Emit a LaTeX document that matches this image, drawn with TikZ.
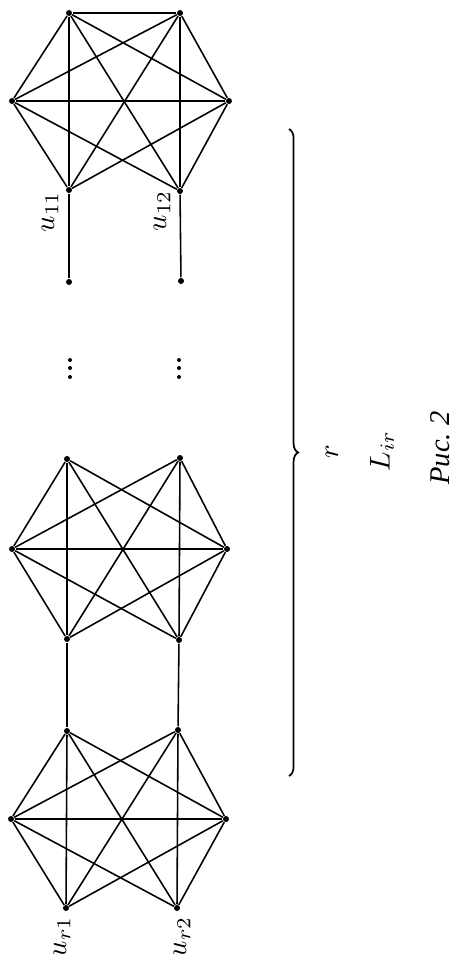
\documentclass[tikz,border=0pt]{standalone}
\usepackage{fontspec}
\newfontfamily\cyrfont{Liberation Serif}
\usetikzlibrary{decorations.pathreplacing}
\begin{document}
\begin{tikzpicture}[x=0.35pt,y=-0.35pt,
  v/.style={circle,fill,inner sep=0pt,minimum size=2.1pt},
  edge/.style={line width=0.55pt},
  dotm/.style={circle,fill,inner sep=0pt,minimum size=1.4pt},
  lab/.style={rotate=90,inner sep=0pt}]
\useasboundingbox (0,0) rectangle (455,954);
% top graph
\node[v] (A1) at (69,13) {};
\node[v] (A2) at (180,13) {};
\node[v] (A3) at (12,101) {};
\node[v] (A4) at (229,101) {};
\node[v] (A5) at (69,190) {};
\node[v] (A6) at (180,191) {};
\node[v] (P1) at (69,282) {};
\node[v] (P2) at (181,281) {};
% middle graph
\node[v] (B1) at (67,459) {};
\node[v] (B2) at (180,458) {};
\node[v] (B3) at (12,549) {};
\node[v] (B4) at (227,549) {};
\node[v] (B5) at (67,639) {};
\node[v] (B6) at (179,640) {};
% bottom graph
\node[v] (C1) at (67,731) {};
\node[v] (C2) at (178,730) {};
\node[v] (C3) at (11,819) {};
\node[v] (C4) at (226,819) {};
\node[v] (C5) at (66,908) {};
\node[v] (C6) at (177,908) {};
% edges
\foreach \a/\b in {A1/A2,A1/A3,A1/A4,A1/A5,A1/A6,A2/A3,A2/A4,A2/A5,A2/A6,A3/A4,A3/A5,A3/A6,A4/A5,A4/A6,A5/P1,A6/P2}
  \draw[edge] (\a) -- (\b);
\foreach \a/\b in {B1/B3,B1/B4,B1/B5,B1/B6,B2/B3,B2/B4,B2/B5,B2/B6,B3/B4,B3/B5,B3/B6,B4/B5,B4/B6,B5/C1,B6/C2}
  \draw[edge] (\a) -- (\b);
\foreach \a/\b in {C1/C3,C1/C4,C1/C5,C1/C6,C2/C3,C2/C4,C2/C5,C2/C6,C3/C4,C3/C5,C3/C6,C4/C5,C4/C6}
  \draw[edge] (\a) -- (\b);
% vertical dots
\node[dotm] (D1) at (70,360) {};
\node[dotm] (D2) at (70,368) {};
\node[dotm] (D3) at (70,377) {};
\node[dotm] (E1) at (179,360) {};
\node[dotm] (E2) at (179,368) {};
\node[dotm] (E3) at (179,377) {};
% labels
\node[lab] (L11) at (50,212) {$u_{11}$};
\node[lab] (L12) at (162,211) {$u_{12}$};
\node[lab] (Lr1) at (62,937) {$u_{r1}$};
\node[lab] (Lr2) at (182,937) {$u_{r2}$};
% brace
\coordinate (br1) at (289,129);
\coordinate (br2) at (289,776);
\draw[line width=0.6pt,decorate,decoration={brace,amplitude=3.2pt}] (br1) -- (br2);
\node[lab] (tr) at (332,452) {$r$};
\node[lab] (tL) at (382,451) {$L_{ir}$};
\node[lab] (cap) at (440,448) {{\cyrfont\itshape Рис.~2}};
\end{tikzpicture}
\end{document}
